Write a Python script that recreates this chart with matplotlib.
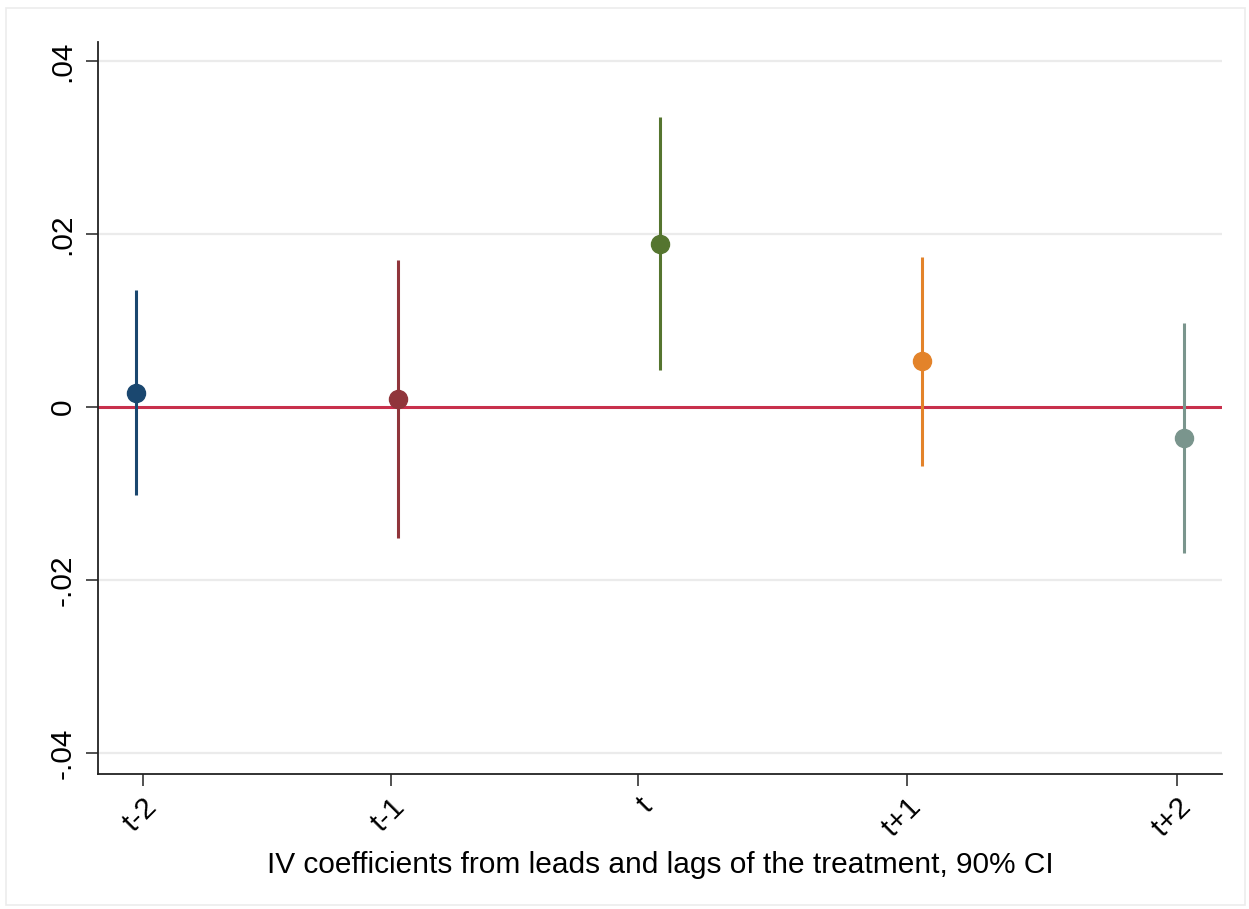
import matplotlib
matplotlib.use("Agg")
import matplotlib.pyplot as plt
from matplotlib.patches import Rectangle

plt.rcParams["font.family"] = ["Liberation Sans", "DejaVu Sans"]

labels = ["t-2", "t-1", "t", "t+1", "t+2"]
coef = [0.0016, 0.0009, 0.0188, 0.0053, -0.0036]
ci_low = [-0.0102, -0.0151, 0.0043, -0.0068, -0.0169]
ci_high = [0.0135, 0.0170, 0.0335, 0.0173, 0.0097]
colors = ["#1a476f", "#90353b", "#55752f", "#e3832a", "#7a958d"]

# marker positions and category tick positions (points are offset like coefplot)
point_x = [1, 2, 3, 4, 5]
tick_x = [1.027, 1.973, 2.916, 3.943, 4.973]

fig = plt.figure(figsize=(12.49, 9.09), dpi=100)
fig.patches.append(Rectangle((0.005, 0.004), 0.992, 0.987, transform=fig.transFigure,
                             fill=False, edgecolor="#ececec", linewidth=1.2))
ax = fig.add_axes([0.0785, 0.1485, 0.8999, 0.8053])

for y in [-0.04, -0.02, 0.02, 0.04]:
    ax.axhline(y, color="#ebebeb", linewidth=1.6, zorder=0)
ax.axhline(0, color="#c8304c", linewidth=2.2, zorder=1)

for i in range(len(labels)):
    ax.plot([point_x[i], point_x[i]], [ci_low[i], ci_high[i]], color=colors[i],
            linewidth=2.2, solid_capstyle="butt", zorder=2)
    ax.plot(point_x[i], coef[i], "o", color=colors[i], markersize=13, zorder=3)

ax.set_xlim(0.855, 5.145)
ax.set_ylim(-0.0424, 0.0422)

ax.set_yticks([-0.04, -0.02, 0, 0.02, 0.04])
ax.set_yticklabels(["-.04", "-.02", "0", ".02", ".04"], rotation=90, va="center", fontsize=21.5)
ax.set_xticks(tick_x)
ax.set_xticklabels(labels, rotation=45, ha="right", va="top", rotation_mode="anchor", fontsize=21.5)

ax.tick_params(axis="both", direction="out", length=8.5, width=1.1, color="#222222")
ax.tick_params(axis="y", pad=7)
ax.tick_params(axis="x", pad=5)

for side in ["top", "right"]:
    ax.spines[side].set_visible(False)
for side in ["left", "bottom"]:
    ax.spines[side].set_linewidth(1.3)
    ax.spines[side].set_color("#222222")

ax.set_xlabel("IV coefficients from leads and lags of the treatment, 90% CI", fontsize=21.5, labelpad=6)

fig.savefig("out.png", dpi=100)
